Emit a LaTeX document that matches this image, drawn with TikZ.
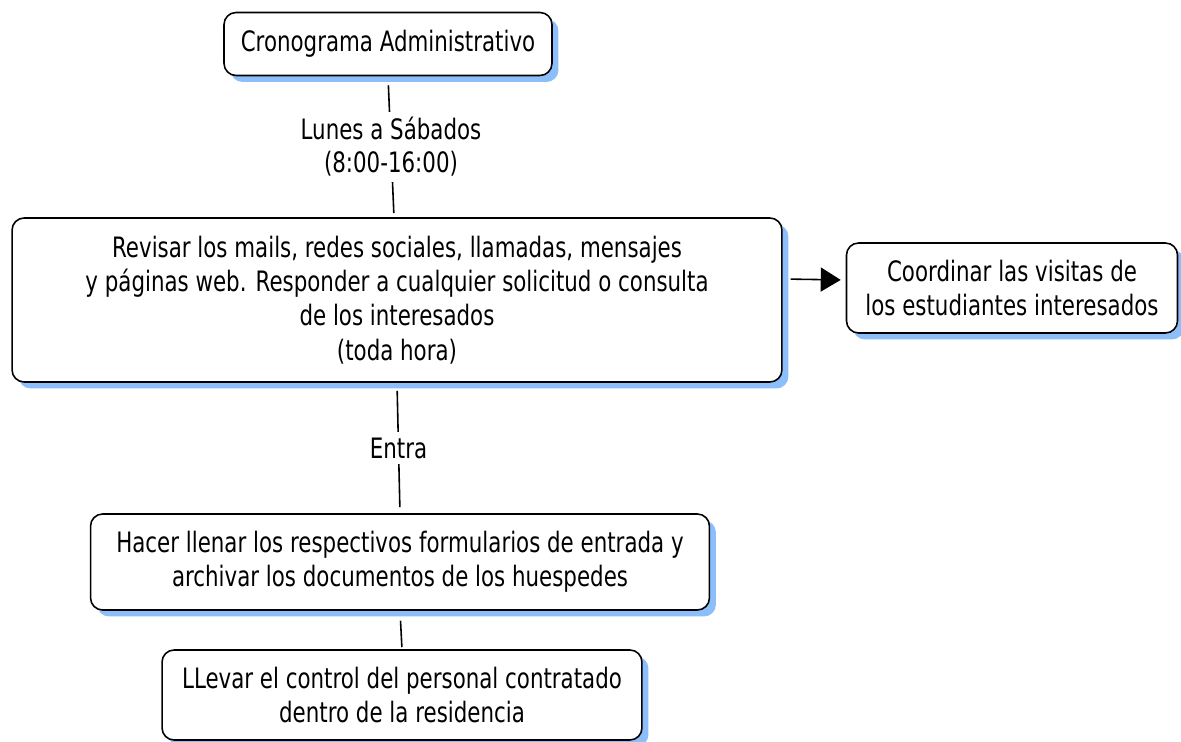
\documentclass[tikz,border=0pt]{standalone}
\usepackage{fontspec}
\setmainfont{DejaVu Sans}[FakeStretch=0.76]
\usetikzlibrary{arrows.meta,shadows}
\definecolor{shadowblue}{RGB}{140,190,250}
\tikzset{
  box/.style={draw, line width=0.9pt, rounded corners=0.24cm, fill=white, align=center,
    inner sep=0pt, font=\fontsize{16}{19.5}\selectfont,
    drop shadow={shadow xshift=0.13cm, shadow yshift=-0.13cm, fill=shadowblue, opacity=1}},
  lbl/.style={fill=white, align=center, inner sep=3pt, font=\fontsize{16}{19}\selectfont}
}
\begin{document}
\begin{tikzpicture}[>={Triangle[length=0.4cm,width=0.48cm]}, x=0.02cm, y=-0.02cm, line width=0.9pt]
\useasboundingbox (0,0) rectangle (1181,742);
\node[box, minimum width=6.56cm, minimum height=1.26cm] (crono) at (388,44) {Cronograma Administrativo};
\node[box, minimum width=15.4cm, minimum height=3.28cm] (revisar) at (397,300)
  {Revisar los mails, redes sociales, llamadas, mensajes\\
   y páginas web. Responder a cualquier solicitud o consulta\\
   de los interesados\\(toda hora)};
\node[box, minimum width=6.62cm, minimum height=1.8cm] (visitas) at (1012,288)
  {Coordinar las visitas de\\los estudiantes interesados};
\node[box, minimum width=12.38cm, minimum height=1.92cm] (entrada) at (400,562)
  {Hacer llenar los respectivos formularios de entrada y\\archivar los documentos de los huespedes};
\node[box, minimum width=9.6cm, minimum height=1.8cm] (control) at (402,695)
  {LLevar el control del personal contratado\\dentro de la residencia};
% conectores
\draw[shorten <=0.18cm, shorten >=0.08cm] (crono.south) -- node[lbl]{Lunes a Sábados\\(8:00-16:00)} ([xshift=-0.06cm]revisar.north);
\draw[shorten <=0.16cm, shorten >=0.12cm] (revisar.south) -- node[lbl]{Entra} (entrada.north);
\draw[shorten <=0.2cm, shorten >=0.04cm] (entrada.south) -- (control.north);
\draw[->, shorten <=0.16cm, shorten >=0.1cm] ([yshift=0.42cm]revisar.east) -- ([yshift=0.16cm]visitas.west);
\end{tikzpicture}
\end{document}
